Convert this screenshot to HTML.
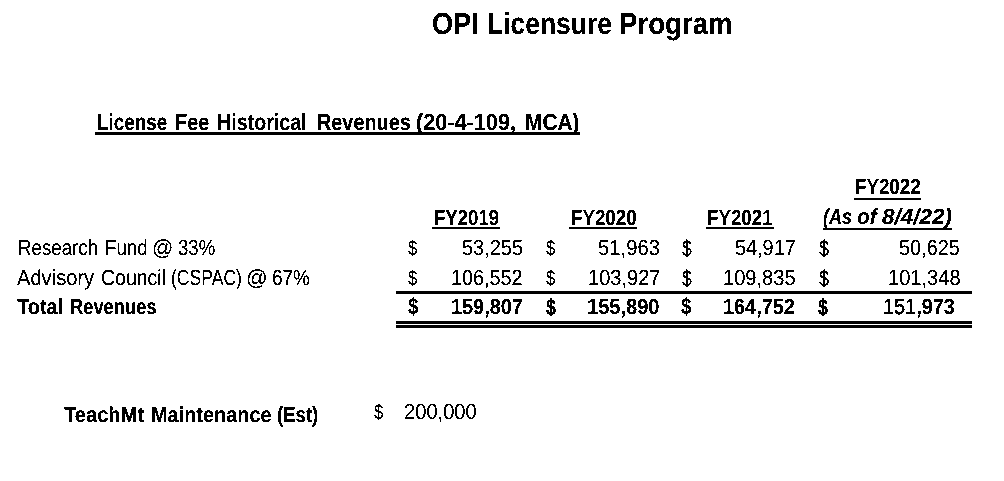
<!DOCTYPE html>
<html lang="en"><head><meta charset="utf-8"><title>OPI Licensure Program</title><style>
html,body{margin:0;padding:0;background:#fff;}
body{width:1004px;height:481px;position:relative;overflow:hidden;font-family:"Liberation Sans",Arial,sans-serif;color:#000;}
.t{position:absolute;text-rendering:geometricPrecision;white-space:pre;line-height:40px;height:40px;transform-origin:0 0;margin:0;}
.b{font-weight:700}.i{font-style:italic}.l{font-weight:400;-webkit-text-stroke:.45px #000}
.r{position:absolute;background:#000;}
#pg{position:absolute;left:0;top:0;width:1004px;height:481px;background:#fff;filter:url(#th);}
</style></head><body>
<svg width="0" height="0" style="position:absolute"><defs><filter id="th" x="0" y="0" width="100%" height="100%" color-interpolation-filters="sRGB"><feComponentTransfer><feFuncR type="discrete" tableValues="0 0 0 1 1"/><feFuncG type="discrete" tableValues="0 0 0 1 1"/><feFuncB type="discrete" tableValues="0 0 0 1 1"/></feComponentTransfer></filter></defs></svg>
<div id="pg">
<div class="ln">
<span class="t b" id="s0" style="left:431.50px;top:4px;font-size:30.52px;transform:scaleX(0.8880)">OPI</span>
<span class="t b" id="s1" style="left:487.35px;top:4px;font-size:30.52px;transform:scaleX(0.8671)">Licensure</span>
<span class="t b" id="s2" style="left:619.11px;top:4px;font-size:30.52px;transform:scaleX(0.9047)">Program</span>
</div>
<div class="ln">
<span class="t b" id="s3" style="left:97.00px;top:102px;font-size:23.26px;transform:scaleX(0.8117)">License</span>
<span class="t b" id="s4" style="left:174.50px;top:102px;font-size:23.26px;transform:scaleX(0.8561)">Fee</span>
<span class="t b" id="s5" style="left:216.87px;top:102px;font-size:23.26px;transform:scaleX(0.8454)">Historical</span>
<span class="t b" id="s6" style="left:317.00px;top:102px;font-size:23.26px;transform:scaleX(0.8536)">Revenues</span>
<span class="t b" id="s7" style="left:416.00px;top:102px;font-size:23.26px;transform:scaleX(0.9318)">(20-4-109,</span>
<span class="t b" id="s8" style="left:525.00px;top:102px;font-size:23.26px;transform:scaleX(0.8979)">MCA)</span>
</div>
<div class="ln">
<span class="t b" id="s9" style="left:855.00px;top:167px;font-size:21.80px;transform:scaleX(0.8593)">FY2022</span>
</div>
<div class="ln">
<span class="t b" id="s10" style="left:433.50px;top:198px;font-size:21.80px;transform:scaleX(0.8536)">FY2019</span>
</div>
<div class="ln">
<span class="t b" id="s11" style="left:570.50px;top:198px;font-size:21.80px;transform:scaleX(0.8597)">FY2020</span>
</div>
<div class="ln">
<span class="t b" id="s12" style="left:707.00px;top:198px;font-size:21.80px;transform:scaleX(0.8585)">FY2021</span>
</div>
<div class="ln">
<span class="t b i" id="s13" style="left:823.29px;top:197px;font-size:21.80px;transform:scaleX(0.8264)">(As</span>
<span class="t b i" id="s14" style="left:857.35px;top:197px;font-size:21.80px;transform:scaleX(0.9503)">of</span>
<span class="t b i" id="s15" style="left:881.50px;top:197px;font-size:21.80px;transform:scaleX(1.0330)">8/4/22)</span>
</div>
<div class="ln">
<span class="t" id="s16" style="left:17.95px;top:228px;font-size:21.80px;transform:scaleX(0.8582)">Research</span>
<span class="t" id="s17" style="left:105.39px;top:228px;font-size:21.80px;transform:scaleX(0.8557)">Fund</span>
<span class="t" id="s18" style="left:152.43px;top:228px;font-size:21.80px;transform:scaleX(0.9607)">@</span>
<span class="t" id="s19" style="left:178.10px;top:228px;font-size:21.80px;transform:scaleX(0.8510)">33%</span>
</div>
<div class="ln">
<span class="t" id="s20" style="left:17.00px;top:258px;font-size:21.80px;transform:scaleX(0.9228)">Advisory</span>
<span class="t" id="s21" style="left:100.50px;top:258px;font-size:21.80px;transform:scaleX(0.8930)">Council</span>
<span class="t" id="s22" style="left:171.00px;top:258px;font-size:21.80px;transform:scaleX(0.8060)">(CSPAC)</span>
<span class="t" id="s23" style="left:246.46px;top:258px;font-size:21.80px;transform:scaleX(0.9757)">@</span>
<span class="t" id="s24" style="left:272.13px;top:258px;font-size:21.80px;transform:scaleX(0.8666)">67%</span>
</div>
<div class="ln">
<span class="t b" id="s25" style="left:17.00px;top:287px;font-size:21.80px;transform:scaleX(0.9163)">Total</span>
<span class="t b" id="s26" style="left:70.00px;top:287px;font-size:21.80px;transform:scaleX(0.8407)">Revenues</span>
</div>
<div class="ln">
<span class="t b" id="s27" style="left:64.00px;top:395px;font-size:21.80px;transform:scaleX(0.9231)">TeachMt</span>
<span class="t b" id="s28" style="left:150.87px;top:395px;font-size:21.80px;transform:scaleX(0.9138)">Maintenance</span>
<span class="t b" id="s29" style="left:276.74px;top:395px;font-size:21.80px;transform:scaleX(0.8514)">(Est)</span>
</div>
<div class="ln">
<span class="t" id="s30" style="left:373.50px;top:393px;font-size:21.05px;transform:scaleX(0.7991)">$</span>
<span class="t" id="s31" style="left:404.02px;top:392px;font-size:21.80px;transform:scaleX(0.9233)">200,000</span>
</div>
<div class="ln">
<span class="t" id="s32" style="left:407.50px;top:229px;font-size:21.05px;transform:scaleX(0.7981)">$</span>
<span class="t" id="s33" style="left:462.16px;top:228px;font-size:21.80px;transform:scaleX(0.9162)">53,255</span>
<span class="t" id="s34" style="left:546.00px;top:229px;font-size:21.05px;transform:scaleX(0.7991)">$</span>
<span class="t" id="s35" style="left:598.15px;top:228px;font-size:21.80px;transform:scaleX(0.9307)">51,963</span>
<span class="t" id="s36" style="left:681.50px;top:229px;font-size:22.60px;transform:scaleX(0.7744)">$</span>
<span class="t" id="s37" style="left:734.66px;top:228px;font-size:21.80px;transform:scaleX(0.9116)">54,917</span>
<span class="t" id="s38" style="left:818.50px;top:229px;font-size:22.55px;transform:scaleX(0.7951)">$</span>
<span class="t" id="s39" style="left:899.15px;top:228px;font-size:21.80px;transform:scaleX(0.9130)">50,625</span>
</div>
<div class="ln">
<span class="t" id="s40" style="left:407.50px;top:259px;font-size:21.05px;transform:scaleX(0.7981)">$</span>
<span class="t" id="s41" style="left:450.87px;top:258px;font-size:21.80px;transform:scaleX(0.9078)">106,552</span>
<span class="t" id="s42" style="left:546.00px;top:259px;font-size:21.05px;transform:scaleX(0.7991)">$</span>
<span class="t" id="s43" style="left:588.00px;top:258px;font-size:21.80px;transform:scaleX(0.9200)">103,927</span>
<span class="t" id="s44" style="left:681.50px;top:259px;font-size:22.60px;transform:scaleX(0.7744)">$</span>
<span class="t" id="s45" style="left:723.00px;top:258px;font-size:21.80px;transform:scaleX(0.9212)">109,835</span>
<span class="t" id="s46" style="left:818.50px;top:259px;font-size:22.55px;transform:scaleX(0.7951)">$</span>
<span class="t" id="s47" style="left:888.00px;top:258px;font-size:21.80px;transform:scaleX(0.9213)">101,348</span>
</div>
<div class="ln">
<span class="t b" id="s48" style="left:407.82px;top:286px;font-size:22.92px;transform:scaleX(0.8086)">$</span>
<span class="t b" id="s49" style="left:450.50px;top:287px;font-size:21.80px;transform:scaleX(0.9119)">159,807</span>
<span class="t b" id="s50" style="left:545.90px;top:287px;font-size:22.84px;transform:scaleX(0.7867)">$</span>
<span class="t b" id="s51" style="left:587.00px;top:287px;font-size:21.80px;transform:scaleX(0.9198)">155,890</span>
<span class="t b" id="s52" style="left:681.04px;top:286px;font-size:22.69px;transform:scaleX(0.8197)">$</span>
<span class="t b" id="s53" style="left:723.00px;top:287px;font-size:21.80px;transform:scaleX(0.9114)">164,752</span>
<span class="t b" id="s54" style="left:818.38px;top:287px;font-size:22.77px;transform:scaleX(0.7869)">$</span>
<span class="t b" id="s55" style="left:883.00px;top:287px;font-size:21.80px;transform:scaleX(0.9112)"><span class="l">151</span>,973</span>
</div>
<div class="r" style="left:95px;top:132px;width:485px;height:3px"></div>
<div class="r" style="left:854px;top:198px;width:67px;height:2px"></div>
<div class="r" style="left:432px;top:227px;width:68px;height:2px"></div>
<div class="r" style="left:569px;top:227px;width:68px;height:2px"></div>
<div class="r" style="left:706px;top:227px;width:68px;height:2px"></div>
<div class="r" style="left:823px;top:228px;width:129px;height:2px"></div>
<div class="r" style="left:396px;top:291px;width:576px;height:3px"></div>
<div class="r" style="left:396px;top:321px;width:576px;height:3px"></div>
<div class="r" style="left:396px;top:325px;width:576px;height:3px"></div>
</div>
</body></html>
